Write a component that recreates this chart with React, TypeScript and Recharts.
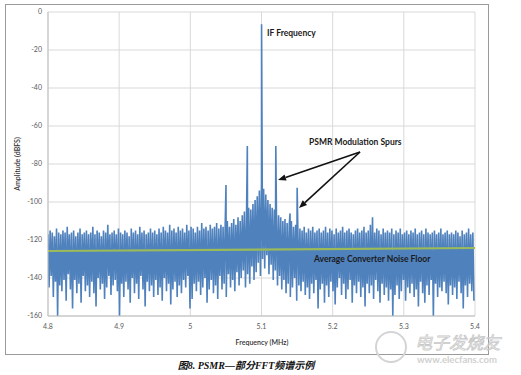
import React from "react";
import { LineChart, Line, XAxis, YAxis, CartesianGrid } from "recharts";

// FFT bin grid
const freqStart = 4.8;
const freqStep = 0.003;

// Upper edge of the noise per bin (dBFS)
const noiseHigh = [
  -117, -115, -116, -118, -114, -116, -117, -115, -116, -113,
  -117, -116, -115, -118, -116, -114, -117, -116, -115, -117,
  -116, -113, -117, -115, -116, -118, -115, -116, -112, -117,
  -116, -115, -117, -114, -116, -117, -115, -116, -118, -114,
  -116, -115, -117, -113, -116, -115, -117, -116, -114, -116,
  -115, -117, -114, -116, -113, -115, -116, -112, -115, -114,
  -116, -113, -115, -114, -116, -112, -115, -113, -114, -116,
  -113, -115, -111, -114, -113, -115, -112, -114, -113, -111,
  -114, -112, -113, -112, -110, -113, -111, -109, -112, -108,
  -110, -107, -105, -106, -103, -104, -101, -99, -97, -94,
  -90, -93, -96, -99, -101, -103, -104, -106, -107, -108,
  -110, -109, -111, -112, -110, -113, -112, -113, -114, -115,
  -113, -116, -114, -115, -113, -116, -115, -114, -116, -115,
  -113, -116, -114, -115, -117, -114, -116, -115, -113, -116,
  -115, -114, -116, -117, -115, -114, -116, -115, -113, -116,
  -115, -112, -108, -116, -114, -115, -117, -114, -116, -115,
  -116, -114, -117, -115, -116, -114, -117, -116, -115, -117,
  -115, -116, -114, -117, -116, -115, -117, -114, -116, -117,
  -116, -115, -117, -116, -114, -117, -116, -115, -117, -116,
  -117, -115, -116, -118, -115, -117, -116, -114, -117, -116,
];

// Lower edge of the noise per bin (dBFS)
const noiseLow = [
  -145, -139, -150, -142, -160, -144, -147, -141, -152, -138,
  -146, -156, -141, -148, -143, -153, -139, -147, -144, -150,
  -142, -148, -155, -140, -146, -143, -151, -145, -139, -149,
  -144, -141, -147, -160, -143, -150, -142, -146, -153, -140,
  -148, -143, -151, -139, -146, -155, -142, -147, -144, -150,
  -141, -149, -145, -152, -140, -147, -143, -154, -146, -142,
  -150, -144, -148, -141, -145, -139, -156, -151, -143, -147,
  -142, -149, -145, -140, -153, -146, -141, -148, -144, -151,
  -139, -146, -143, -150, -138, -145, -141, -147, -137, -144,
  -140, -136, -145, -138, -143, -134, -141, -137, -132, -139,
  -130, -135, -128, -138, -133, -141, -136, -144, -139, -146,
  -141, -148, -143, -150, -145, -140, -152, -144, -147, -142,
  -149, -145, -151, -143, -148, -141, -156, -146, -143, -153,
  -144, -150, -142, -147, -154, -145, -140, -149, -143, -151,
  -146, -141, -153, -144, -148, -142, -150, -145, -155, -143,
  -148, -144, -151, -141, -147, -153, -143, -149, -145, -152,
  -146, -160, -149, -144, -151, -147, -141, -152, -145, -148,
  -143, -150, -146, -155, -142, -148, -153, -144, -149, -141,
  -160, -143, -150, -145, -147, -142, -148, -154, -144, -149,
  -145, -151, -142, -148, -156, -144, -150, -143, -147, -152,
];

// Discrete spurs / carrier
const spurFreq = [5.05, 5.08, 5.1, 5.12, 5.14, 5.15];
const spurLevel = [-91, -70.5, -6.5, -70.5, -106, -92.5];

// Average converter noise floor
const floorFreq = [4.8, 5.4];
const floorLevel = [-125.8, -124.2];

const xTicks = [4.8, 4.9, 5, 5.1, 5.2, 5.3, 5.4];
const yTicks = [0, -20, -40, -60, -80, -100, -120, -140, -160];

const spectrum: { f: number; a: number }[] = [];
noiseHigh.forEach((h, i) => {
  const f = freqStart + i * freqStep;
  spectrum.push({ f: +f.toFixed(5), a: h });
  spectrum.push({ f: +(f + freqStep / 2).toFixed(5), a: noiseLow[i] });
});
spurFreq.forEach((f, i) => spectrum.push({ f: f + 0.0001, a: spurLevel[i] }));
spectrum.sort((p, q) => p.f - q.f);

const floorData = floorFreq.map((f, i) => ({ f, a: floorLevel[i] }));

const tickStyle = { fill: "#595959", fontSize: 7, fontFamily: "Lato, 'Open Sans', sans-serif" };

function Arrow({ x1, y1, x2, y2 }: { x1: number; y1: number; x2: number; y2: number }) {
  const dx = x2 - x1;
  const dy = y2 - y1;
  const len = Math.hypot(dx, dy);
  const ux = dx / len;
  const uy = dy / len;
  const hl = 8;
  const hw = 3.2;
  const bx = x2 - ux * hl;
  const by = y2 - uy * hl;
  const px = -uy * hw;
  const py = ux * hw;
  return (
    <g>
      <line x1={x1} y1={y1} x2={bx} y2={by} stroke="#111" strokeWidth={1.6} />
      <polygon points={`${x2},${y2} ${bx + px},${by + py} ${bx - px},${by - py}`} fill="#111" />
    </g>
  );
}

export default function App() {
  const annFont = "Lato, 'Open Sans', sans-serif";
  return (
    <div style={{ position: "absolute", left: 0, top: 0, width: 521, height: 375, background: "#fff" }}>
      <LineChart
        width={521}
        height={375}
        margin={{ top: 12, right: 46, bottom: 29, left: 8 }}
      >
        <CartesianGrid stroke="#d9d9d9" strokeWidth={1} />
        <XAxis
          dataKey="f"
          type="number"
          domain={[4.8, 5.4]}
          ticks={xTicks}
          allowDataOverflow
          height={30}
          tickLine={false}
          tickSize={0}
          tickMargin={8}
          axisLine={{ stroke: "#bfbfbf" }}
          tick={tickStyle}
        />
        <YAxis
          type="number"
          domain={[-160, 0]}
          ticks={yTicks}
          allowDataOverflow
          width={40}
          tickLine={false}
          tickSize={0}
          tickMargin={6}
          axisLine={{ stroke: "#bfbfbf" }}
          tick={tickStyle}
        />
        <Line
          data={spectrum}
          dataKey="a"
          type="linear"
          stroke="#4F81BD"
          strokeWidth={1.6}
          strokeLinejoin="miter"
          dot={false}
          isAnimationActive={false}
        />
        <Line
          data={floorData}
          dataKey="a"
          type="linear"
          stroke="#9BBB59"
          strokeWidth={2.2}
          dot={false}
          isAnimationActive={false}
        />
      </LineChart>
      <svg
        width={521}
        height={375}
        style={{ position: "absolute", left: 0, top: 0, pointerEvents: "none" }}
      >
        <rect x={5.5} y={4.5} width={483} height={350} fill="none" stroke="#9a9a9a" strokeWidth={1} />
        <text
          transform="translate(20,164) rotate(-90)"
          textAnchor="middle"
          fontSize={7}
          fontWeight={600}
          fill="#333"
          fontFamily={annFont}
        >
          Amplitude (dBFS)
        </text>
        <text x={262} y={345} textAnchor="middle" fontSize={7} fontWeight={600} fill="#333" fontFamily={annFont}>
          Frequency (MHz)
        </text>
        <text x={267} y={36} fontSize={8.5} fontWeight={700} fill="#1a1a1a" fontFamily={annFont}>
          IF Frequency
        </text>
        <text x={309} y={145} fontSize={8.5} fontWeight={700} fill="#1a1a1a" fontFamily={annFont}>
          PSMR Modulation Spurs
        </text>
        <text x={314} y={262} fontSize={8.5} fontWeight={700} fill="#1a1a1a" fontFamily={annFont}>
          Average Converter Noise Floor
        </text>
        <Arrow x1={360} y1={152} x2={278} y2={180} />
        <Arrow x1={360} y1={152} x2={299} y2={208} />
        <text
          x={246}
          y={369}
          textAnchor="middle"
          fontSize={10}
          fontWeight={700}
          fontStyle="italic"
          fill="#111"
          fontFamily="'Liberation Serif', 'DejaVu Serif', 'Noto Sans CJK SC', serif"
        >
          图8. PSMR—部分FFT频谱示例
        </text>
        <circle cx={391} cy={347} r={15} fill="none" stroke="#d4d4d4" strokeWidth={2} />
        <text
          x={415}
          y={349}
          fontSize={17}
          fontStyle="italic"
          fill="none"
          stroke="#c8c8c8"
          strokeWidth={0.8}
          fontFamily="'Noto Sans CJK SC', sans-serif"
        >
          电子发烧友
        </text>
        <text x={417} y={363} fontSize={9.5} fontWeight={700} fill="#d0d0d0" fontFamily={annFont}>
          www.elecfans.com
        </text>
      </svg>
    </div>
  );
}
